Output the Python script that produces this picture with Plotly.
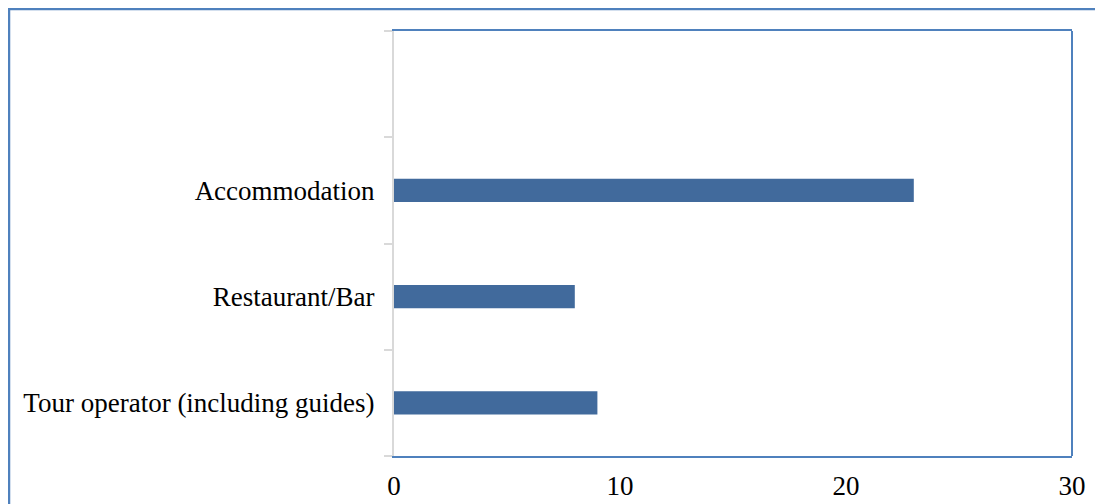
import plotly.graph_objects as go

categories = ["Tour operator (including guides)", "Restaurant/Bar", "Accommodation", " "]
values = [9, 8, 23, None]
x_ticks = [0, 10, 20, 30]

# page has an 8px body offset; figure coordinates are shifted accordingly
OFF = 8
W, H = 1103 - OFF, 504 - OFF
L, R, T, B = 394 - OFF, 31, 31 - OFF, 48
pw, ph = W - L - R, H - T - B

fig = go.Figure(go.Bar(
    y=categories, x=values, orientation="h",
    marker=dict(color="#416A9C", line=dict(width=0)),
    width=0.22,
))

blue = "#4F81BD"
gray = "#D9D9D9"

fig.update_layout(
    width=W, height=H,
    margin=dict(l=L, r=R, t=T, b=B),
    paper_bgcolor="white", plot_bgcolor="white",
    font=dict(family="Liberation Serif", size=27, color="black"),
    showlegend=False,
    xaxis=dict(
        range=[0, 30], tickvals=x_ticks, showgrid=False, zeroline=False,
        showline=True, mirror=True, linecolor=blue, linewidth=2,
        ticks="", ticklabelstandoff=5, automargin=False,
    ),
    yaxis=dict(
        type="category", categoryorder="array", categoryarray=categories,
        range=[-0.5, 3.5], showgrid=False, zeroline=False,
        showline=True, linecolor=gray, linewidth=2,
        ticks="outside", tickson="boundaries", ticklen=8, tickcolor=gray, tickwidth=2,
        ticklabelstandoff=12, automargin=False,
    ),
    shapes=[
        dict(type="line", xref="paper", yref="paper", x0=1, x1=1, y0=0, y1=1,
             line=dict(color=blue, width=2)),
        dict(type="rect", xref="paper", yref="paper",
             x0=(1 - L) / pw, x1=(W + 20 - L) / pw,
             y0=(H - B - (H + 20)) / ph, y1=(H - B - 1) / ph,
             line=dict(color=blue, width=2.5), layer="below"),
    ],
)

fig.write_html("out.html")
